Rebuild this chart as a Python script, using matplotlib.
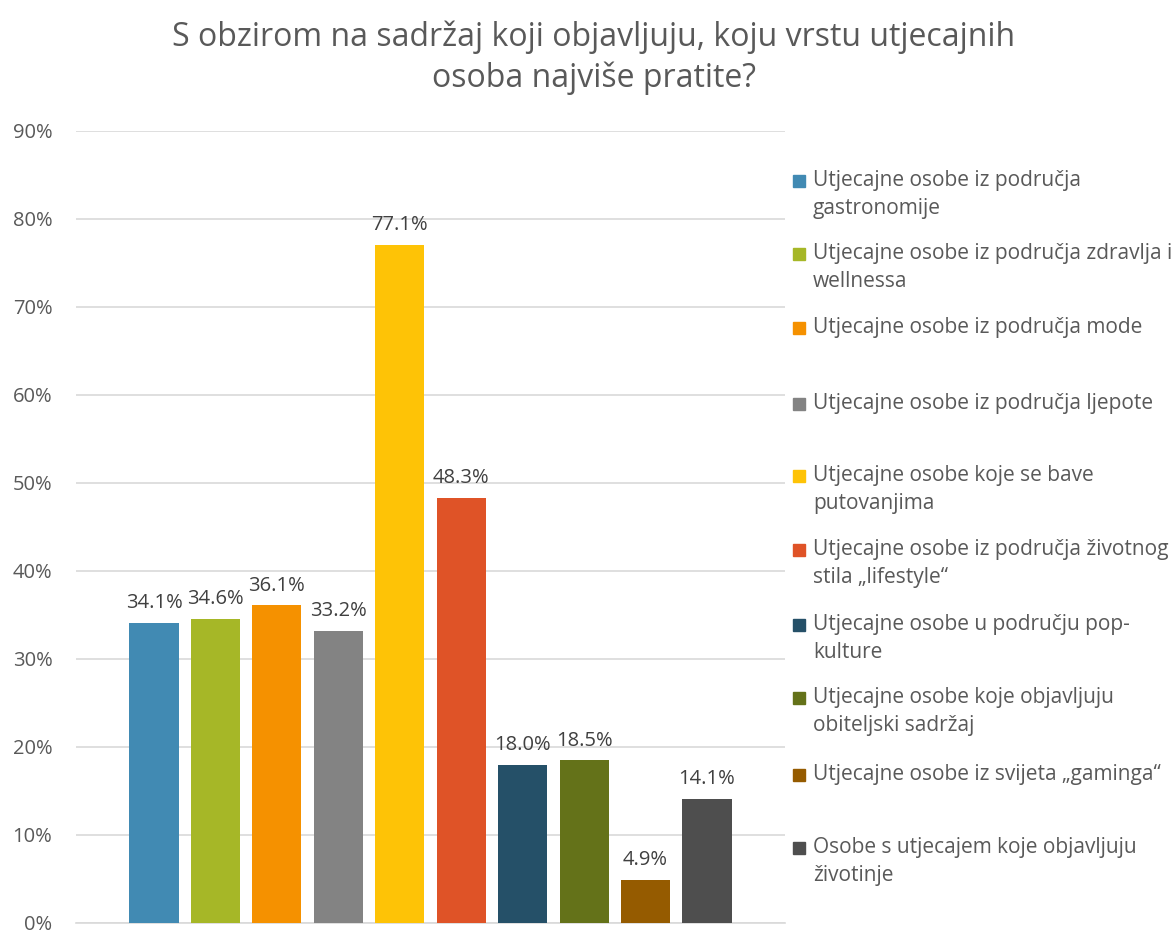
import matplotlib.pyplot as plt
from matplotlib.patches import Rectangle

plt.rcParams['font.family'] = ['Open Sans', 'DejaVu Sans']

title = "S obzirom na sadržaj koji objavljuju, koju vrstu utjecajnih\nosoba najviše pratite?"
categories = [
    "Utjecajne osobe iz područja\ngastronomije",
    "Utjecajne osobe iz područja zdravlja i\nwellnessa",
    "Utjecajne osobe iz područja mode",
    "Utjecajne osobe iz područja ljepote",
    "Utjecajne osobe koje se bave\nputovanjima",
    "Utjecajne osobe iz područja životnog\nstila „lifestyle“",
    "Utjecajne osobe u području pop-\nkulture",
    "Utjecajne osobe koje objavljuju\nobiteljski sadržaj",
    "Utjecajne osobe iz svijeta „gaminga“",
    "Osobe s utjecajem koje objavljuju\nživotinje",
]
values = [34.1, 34.6, 36.1, 33.2, 77.1, 48.3, 18.0, 18.5, 4.9, 14.1]
colors = ['#418ab3', '#a6b727', '#f59100', '#838383', '#fec306',
          '#df5327', '#255068', '#647219', '#955b00', '#4e4e4e']
yticks = [0, 10, 20, 30, 40, 50, 60, 70, 80, 90]

fig = plt.figure(figsize=(11.76, 9.31), dpi=100)
ax = fig.add_axes([76/1176, 1-923/931, (785-76)/1176, (923-131)/931])

x = list(range(len(values)))
ax.bar(x, values, width=0.8, color=colors, zorder=3)
for xi, v in zip(x, values):
    ax.text(xi, v + 1.1, f"{v:.1f}%", ha='center', va='bottom',
            fontsize=14.5, color='#404040')

ax.set_xlim(-1.27, 10.27)
ax.set_ylim(0, 90)
ax.set_yticks(yticks)
ax.set_yticklabels([f"{t}%" for t in yticks], fontsize=14.5, color='#595959')
ax.tick_params(axis='y', length=0, pad=17)
ax.set_xticks([])
ax.grid(axis='y', color='#d9d9d9', linewidth=1.2, zorder=0)
for s in ['top', 'right', 'left']:
    ax.spines[s].set_visible(False)
ax.spines['bottom'].set_color('#d9d9d9')
ax.spines['bottom'].set_linewidth(1.2)

fig.text(0.505, 1-58/931, title, ha='center', va='center', fontsize=23,
         color='#595959', linespacing=1.3)

# legend, first-line positions in pixels
leg_y = [181, 254, 328, 404, 476, 550, 625, 698, 775, 848]
for lab, c, yp in zip(categories, colors, leg_y):
    fig.patches.append(Rectangle((793/1176, 1-(yp+6)/931), 12/1176, 12/931,
                                 transform=fig.transFigure, color=c, figure=fig))
    fig.text(813/1176, 1-(yp-11)/931, lab, ha='left', va='top', fontsize=15,
             color='#595959', linespacing=1.45)

fig.savefig('out.png', dpi=100)
